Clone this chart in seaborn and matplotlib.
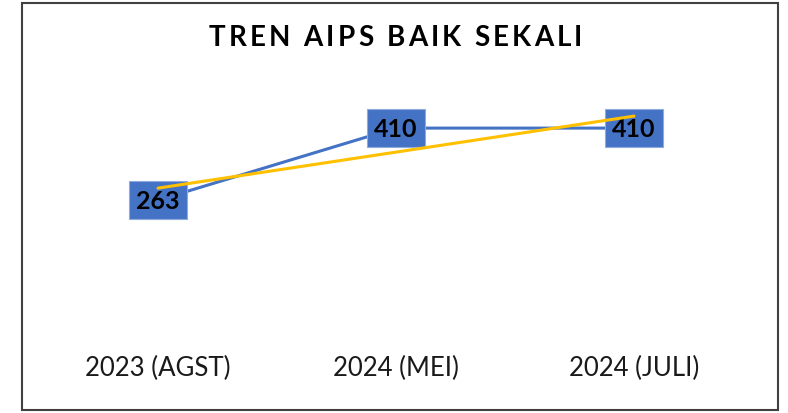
import numpy as np
import pandas as pd
import matplotlib
matplotlib.use('Agg')
import matplotlib.pyplot as plt
import seaborn as sns
from matplotlib.patches import Rectangle

# chart data
periods = ['2023 (AGST)', '2024 (MEI)', '2024 (JULI)']
values = [263, 410, 410]
title = 'TREN AIPS BAIK SEKALI'

BLUE = '#4472C4'
GOLD = '#FFC000'

sns.set_theme(style='white')
plt.rcParams['font.family'] = ['Lato', 'DejaVu Sans']

df = pd.DataFrame({'pos': np.arange(len(periods)), 'value': values, 'period': periods})

fig = plt.figure(figsize=(7.88, 4.14), dpi=100)
ax = fig.add_axes([39 / 788, 84 / 414, 714 / 788, 245 / 414])

# main series
sns.lineplot(data=df, x='pos', y='value', color=BLUE, linewidth=2.2, ax=ax, zorder=2)

# value labels in blue boxes
for _, r in df.iterrows():
    ax.text(r.pos, r.value, f'{r.value}', ha='center', va='center',
            fontsize=18, fontweight='bold', color='black', zorder=3,
            bbox=dict(boxstyle='square,pad=0.3', facecolor=BLUE,
                      edgecolor='#8FAADC', linewidth=0.8))

# linear trend line
sns.regplot(data=df, x='pos', y='value', scatter=False, ci=None, truncate=True,
            line_kws=dict(color=GOLD, linewidth=2.2, zorder=4), ax=ax)

ax.set_xlim(-0.5, len(periods) - 0.5)
ax.set_ylim(0, 500)
ax.set_xticks(df.pos)
ax.set_xticklabels(periods, fontsize=18.5, color='#1a1a1a')
ax.tick_params(axis='x', length=0, pad=19)
ax.set_yticks([])
ax.set_xlabel('')
ax.set_ylabel('')
for s in ax.spines.values():
    s.set_visible(False)

# title with letter spacing (draw char by char)
renderer = fig.canvas.get_renderer()
tracking = 3.2  # extra px between letters
chars = [fig.text(0, 0, c, fontsize=20, fontweight='bold', color='black', va='center')
         for c in title]
widths = []
for t in chars:
    if t.get_text() == ' ':
        t.set_text('n')
        widths.append(t.get_window_extent(renderer).width * 0.45)
        t.set_text(' ')
    else:
        widths.append(t.get_window_extent(renderer).width)
total = sum(widths) + tracking * (len(chars) - 1)
x = 395.5 - total / 2
for t, w in zip(chars, widths):
    t.set_position((x / 788, 1 - 38 / 414))
    x += w + tracking

# outer border
fig.patches.append(Rectangle((22 / 788, 3 / 414), 756 / 788, 407 / 414,
                             transform=fig.transFigure, fill=False,
                             edgecolor='#404040', linewidth=1.5))

fig.savefig('out.png', dpi=100)
